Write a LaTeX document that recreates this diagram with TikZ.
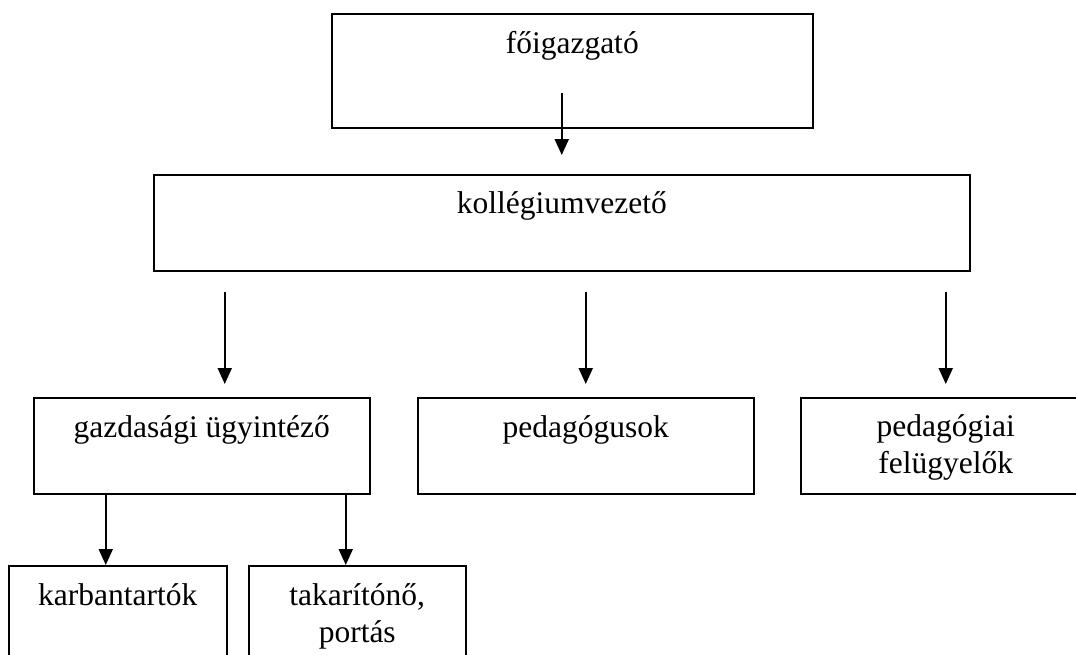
\documentclass[tikz,border=0pt]{standalone}
\usepackage{fontspec}
\setmainfont{Liberation Serif}
\usetikzlibrary{arrows.meta}
\tikzset{
  box/.style={draw=black, line width=1.5pt, rectangle, inner sep=0pt, anchor=north west},
  lbl/.style={anchor=base, inner sep=0pt, font=\fontsize{31.5}{37.5}\selectfont},
  arr/.style={line width=2pt, -{Triangle[length=16pt,width=14pt]}},
}
\begin{document}
\begin{tikzpicture}[x=1pt,y=-1pt]
\useasboundingbox (0,0) rectangle (1076,654);
\clip (0,0) rectangle (1076,654);
% boxes
\node[box, minimum width=481pt, minimum height=114pt] (fo) at (331,13) {};
\node[box, minimum width=816pt, minimum height=96pt] (kv) at (153,174) {};
\node[box, minimum width=336pt, minimum height=96pt] (gz) at (33,397) {};
\node[box, minimum width=336pt, minimum height=96pt] (pg) at (417,397) {};
\node[box, minimum width=290pt, minimum height=96pt] (pf) at (800,397) {};
\node[box, minimum width=218pt, minimum height=100pt] (kb) at (8,565) {};
\node[box, minimum width=217pt, minimum height=100pt] (tk) at (248,565) {};
% labels
\node[lbl] (fo-t) at ([yshift=-40pt]fo.north) {főigazgató};
\node[lbl] (kv-t) at ([yshift=-39pt]kv.north) {kollégiumvezető};
\node[lbl] (gz-t) at ([yshift=-40pt]gz.north) {gazdasági ügyintéző};
\node[lbl] (pg-t) at ([yshift=-40pt]pg.north) {pedagógusok};
\node[lbl] (pf-t) at ([yshift=-39pt]pf.north) {\begin{tabular}[t]{@{}c@{}}pedagógiai\\felügyelők\end{tabular}};
\node[lbl] (kb-t) at ([yshift=-40pt]kb.north) {karbantartók};
\node[lbl] (tk-t) at ([yshift=-40pt]tk.north) {\begin{tabular}[t]{@{}c@{}}takarítónő,\\portás\end{tabular}};
% connectors
\draw[arr, shorten <=-36pt, shorten >=19pt] (fo.south -| kv.north) -- (kv.north);
\draw[arr, shorten <=20pt, shorten >=13pt] ([xshift=23pt]gz.north |- kv.south) -- ([xshift=23pt]gz.north);
\draw[arr, shorten <=20pt, shorten >=13pt] (pg.north |- kv.south) -- (pg.north);
\draw[arr, shorten <=20pt, shorten >=13pt] (pf.north |- kv.south) -- (pf.north);
\draw[arr] ([xshift=-12pt]kb.north |- gz.south) -- ([xshift=-12pt]kb.north);
\draw[arr] ([xshift=-11.5pt]tk.north |- gz.south) -- ([xshift=-11.5pt]tk.north);
\end{tikzpicture}
\end{document}
